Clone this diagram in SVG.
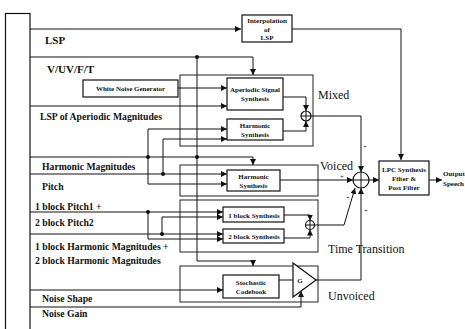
<svg xmlns="http://www.w3.org/2000/svg" width="465" height="329" viewBox="0 0 465 329">
<style>
.box{fill:#fff;stroke:#111;stroke-width:1.2}
.grp{fill:none;stroke:#222;stroke-width:1}
.ln{fill:none;stroke:#111;stroke-width:1}
.dot{fill:#111}
.lab{font-family:"Liberation Serif",serif;font-weight:bold;font-size:9.7px;fill:#111}
.lab2{font-family:"Liberation Serif",serif;font-weight:bold;font-size:11px;fill:#111}
.big{font-family:"Liberation Serif",serif;font-size:12px;fill:#111}
.nt{font-family:"Liberation Serif",serif;font-weight:bold;font-size:7px;fill:#111;text-anchor:middle}
.pl{font-family:"Liberation Serif",serif;font-size:6px;fill:#111;text-anchor:middle}
</style>
<defs>
<marker id="ah" markerUnits="userSpaceOnUse" markerWidth="6" markerHeight="6" refX="6" refY="3" orient="auto">
<path d="M0,0 L6,3 L0,6 z" fill="#111"/>
</marker>
</defs>
<rect width="465" height="329" fill="#fff"/>

<g id="input-bus">
<rect x="5.5" y="13.5" width="24.5" height="330" class="box"/>
</g>

<g id="groups">
<rect id="mixed" x="180" y="75" width="133" height="71" class="grp"/>
<rect id="voiced" x="180" y="165" width="138" height="31" class="grp"/>
<rect id="time-transition" x="180" y="200" width="138" height="52" class="grp"/>
<rect id="unvoiced" x="180" y="266" width="138" height="36" class="grp"/>
<text x="318" y="99" class="big">Mixed</text>
<text x="320" y="170" class="big">Voiced</text>
<text x="328" y="253" class="big">Time Transition</text>
<text x="328" y="300" class="big">Unvoiced</text>
</g>

<g id="labels">
<text x="45" y="44" class="lab2">LSP</text>
<text x="47" y="73" class="lab2">V/UV/F/T</text>
<text x="40" y="120" class="lab">LSP of Aperiodic Magnitudes</text>
<text x="42" y="170" class="lab">Harmonic Magnitudes</text>
<text x="42" y="190" class="lab">Pitch</text>
<text x="35" y="210" class="lab">1 block Pitch1 +</text>
<text x="35" y="226" class="lab">2 block Pitch2</text>
<text x="35" y="250" class="lab">1 block Harmonic Magnitudes +</text>
<text x="35" y="264" class="lab">2 block Harmonic Magnitudes</text>
<text x="42" y="302" class="lab">Noise Shape</text>
<text x="42" y="317" class="lab">Noise Gain</text>
</g>

<g id="connectors">
<path d="M30,29 H241" class="ln" marker-end="url(#ah)"/>
<path d="M292,29 H401 V160" class="ln" marker-end="url(#ah)"/>
<path d="M30,57 H253 V75" class="ln" marker-end="url(#ah)"/>
<path d="M197,57 V261 H253 V266" class="ln" marker-end="url(#ah)"/>
<path d="M178,88 H227" class="ln" marker-end="url(#ah)"/>
<path d="M30,106 H227" class="ln" marker-end="url(#ah)"/>
<path d="M30,157 H253 V165" class="ln" marker-end="url(#ah)"/>
<path d="M148,157 V129 H227" class="ln" marker-end="url(#ah)"/>
<path d="M148,157 V184 H227" class="ln" marker-end="url(#ah)"/>
<path d="M30,174 H227" class="ln" marker-end="url(#ah)"/>
<path d="M163,174 V139 H227" class="ln" marker-end="url(#ah)"/>
<path d="M283,97 H306 V111" class="ln" marker-end="url(#ah)"/>
<path d="M283,131 H306 V121" class="ln" marker-end="url(#ah)"/>
<path d="M311,116 H361 V172" class="ln" marker-end="url(#ah)"/>
<path d="M280,180 H353" class="ln" marker-end="url(#ah)"/>
<path d="M369,180 H379" class="ln" marker-end="url(#ah)"/>
<path d="M429,180 H442" class="ln" marker-end="url(#ah)"/>
<path d="M30,212 H223" class="ln" marker-end="url(#ah)"/>
<path d="M148,212 V239 H223" class="ln" marker-end="url(#ah)"/>
<path d="M30,234 H223" class="ln" marker-end="url(#ah)"/>
<path d="M162,234 V217 H223" class="ln" marker-end="url(#ah)"/>
<path d="M284,215 H310 V220.5" class="ln" marker-end="url(#ah)"/>
<path d="M284,238 H310 V229.5" class="ln" marker-end="url(#ah)"/>
<path d="M314.5,225 H344 L355,188" class="ln" marker-end="url(#ah)"/>
<path d="M30,290 H223" class="ln" marker-end="url(#ah)"/>
<path d="M279,280 H293" class="ln"/>
<path d="M316,280 H361 V188" class="ln" marker-end="url(#ah)"/>
<path d="M30,307 H301 V291" class="ln" marker-end="url(#ah)"/>
<circle cx="197" cy="57" r="2" class="dot"/>
<circle cx="148" cy="157" r="2" class="dot"/>
<circle cx="197" cy="157" r="2" class="dot"/>
<circle cx="163" cy="174" r="2" class="dot"/>
<circle cx="148" cy="212" r="2" class="dot"/>
<circle cx="162" cy="234" r="2" class="dot"/>
<text x="365" y="149" class="pl">+</text>
<text x="342" y="178.5" class="pl">+</text>
<text x="348" y="200" class="pl">+</text>
<text x="366" y="213" class="pl">+</text>
</g>

<g id="interpolation">
<rect x="242" y="15" width="50" height="27" class="box"/>
<text x="267" y="23" class="nt">Interpolation</text>
<text x="267" y="31.5" class="nt">of</text>
<text x="267" y="40" class="nt">LSP</text>
</g>

<g id="white-noise">
<rect x="83" y="80" width="95" height="17" class="box"/>
<text x="130.5" y="91" class="nt">White Noise Generator</text>
</g>

<g id="aperiodic">
<rect x="227" y="78" width="56" height="32" class="box"/>
<text x="255" y="92" class="nt">Aperiodic Signal</text>
<text x="255" y="101" class="nt">Synthesis</text>
</g>

<g id="harmonic-mixed">
<rect x="227" y="119" width="56" height="21" class="box"/>
<text x="255" y="128" class="nt">Harmonic</text>
<text x="255" y="137" class="nt">Synthesis</text>
</g>

<g id="sum-mixed">
<circle cx="306" cy="116" r="5" class="box"/>
<path d="M301,116 H311 M306,111 V121" class="ln"/>
</g>

<g id="harmonic-voiced">
<rect x="227" y="170" width="53" height="21" class="box"/>
<text x="253.5" y="178.5" class="nt">Harmonic</text>
<text x="253.5" y="187.5" class="nt">Synthesis</text>
</g>

<g id="block1">
<rect x="223" y="207" width="61" height="15" class="box"/>
<text x="254" y="217.5" class="nt">1 block Synthesis</text>
</g>

<g id="block2">
<rect x="223" y="229" width="61" height="14" class="box"/>
<text x="254" y="239" class="nt">2 block Synthesis</text>
</g>

<g id="sum-tt">
<circle cx="310" cy="225" r="4.5" class="box"/>
<path d="M305.5,225 H314.5 M310,220.5 V229.5" class="ln"/>
</g>

<g id="stochastic">
<rect x="223" y="275" width="56" height="23" class="box"/>
<text x="251" y="284.5" class="nt">Stochastic</text>
<text x="251" y="294" class="nt">Codebook</text>
</g>

<g id="gain">
<path d="M293,263 L293,297 L316,280 z" class="box"/>
<text x="300" y="283" class="nt">G</text>
</g>

<g id="sum-main">
<circle cx="361" cy="180" r="8" class="box"/>
<path d="M353,180 H369 M361,172 V188" class="ln"/>
</g>

<g id="lpc">
<rect x="379" y="161" width="50" height="34" class="box"/>
<text x="404" y="172" class="nt">LPC Synthesis</text>
<text x="404" y="181" class="nt">Filter &amp;</text>
<text x="404" y="190" class="nt">Post Filter</text>
</g>

<g id="output">
<text x="443" y="176" class="nt" style="text-anchor:start">Output</text>
<text x="443" y="186" class="nt" style="text-anchor:start">Speech</text>
</g>
</svg>
